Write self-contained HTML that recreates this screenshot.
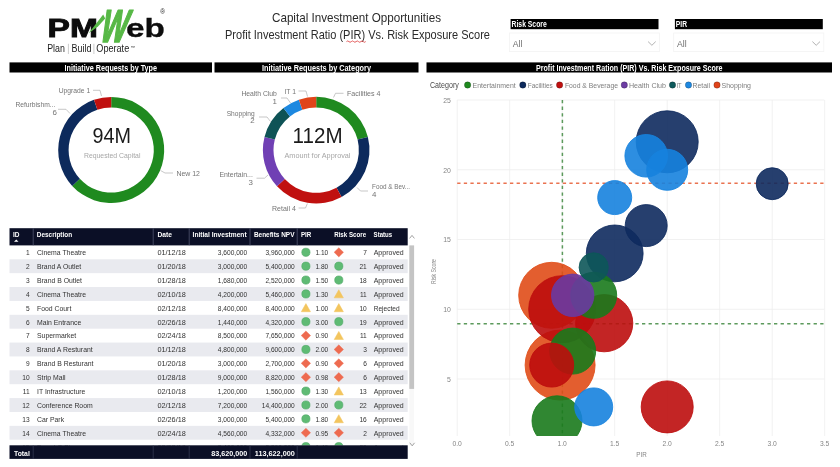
<!DOCTYPE html>
<html><head><meta charset="utf-8"><title>Capital Investment Opportunities</title>
<style>
html,body{margin:0;padding:0;background:#fff;}
body{width:840px;height:467px;overflow:hidden;}
svg{display:block;font-family:"Liberation Sans",sans-serif;}
</style></head><body>
<svg width="840" height="467" viewBox="0 0 840 467">
<rect width="840" height="467" fill="#fff"/>
<g id="logo">
<text x="47.60" y="36.70" font-size="26.2" fill="#0d0d0d" textLength="50.20" lengthAdjust="spacingAndGlyphs" font-weight="bold" stroke="#0d0d0d" stroke-width="0.9">PM</text>
<text x="126.10" y="36.70" font-size="26.4" fill="#0d0d0d" textLength="38.90" lengthAdjust="spacingAndGlyphs" font-weight="bold" stroke="#0d0d0d" stroke-width="0.3">eb</text>
<text x="0" y="0" font-size="44" font-weight="bold" fill="#57b846" stroke="#57b846" stroke-width="1.6" stroke-linejoin="round" transform="translate(98,41.8) skewX(-16) scale(0.63,1.05)">W</text>
<path d="M88.6 33.2 L103.2 14.6 L105.2 18.5 L98 26.5Z" fill="#57b846"/>
<text x="160.30" y="14.20" font-size="6.5" fill="#222">®</text>
<text x="47.20" y="52.30" font-size="10.8" fill="#1c1c1c" textLength="17.70" lengthAdjust="spacingAndGlyphs">Plan</text>
<text x="71.40" y="52.30" font-size="10.8" fill="#1c1c1c" textLength="20.00" lengthAdjust="spacingAndGlyphs">Build</text>
<text x="96.30" y="52.30" font-size="10.8" fill="#1c1c1c" textLength="32.90" lengthAdjust="spacingAndGlyphs">Operate</text>
<text x="130.60" y="48.60" font-size="4.4" fill="#222">™</text>
<line x1="68.40" y1="43.80" x2="68.40" y2="54.00" stroke="#aaa" stroke-width="0.6"/>
<line x1="93.90" y1="43.80" x2="93.90" y2="54.00" stroke="#aaa" stroke-width="0.6"/>
</g>
<text x="356.50" y="22.10" font-size="12.8" fill="#2b2b2b" textLength="169.00" lengthAdjust="spacingAndGlyphs" text-anchor="middle">Capital Investment Opportunities</text>
<text x="357.50" y="39.40" font-size="12.8" fill="#2b2b2b" textLength="265.00" lengthAdjust="spacingAndGlyphs" text-anchor="middle">Profit Investment Ratio (PIR) Vs. Risk Exposure Score</text>
<path d="M346.5 41.6 q1.2 -1.3 2.4 0 t2.4 0 t2.4 0 t2.4 0 t2.4 0 t2.4 0 t2.4 0 t2.4 0" fill="none" stroke="#e04848" stroke-width="0.9"/>
<rect x="510.60" y="19.00" width="147.90" height="10.20" fill="#000"/>
<text x="511.50" y="27.10" font-size="8.2" fill="#fff" textLength="35.30" lengthAdjust="spacingAndGlyphs" font-weight="bold">Risk Score</text>
<rect x="509.40" y="33.00" width="150.10" height="18.60" fill="#fff" stroke="#f3f3f3" stroke-width="0.8"/>
<text x="512.80" y="46.90" font-size="9.4" fill="#707070" textLength="9.60" lengthAdjust="spacingAndGlyphs">All</text>
<path d="M648.1 41.6 L651.9 45.3 L655.7 41.6" fill="none" stroke="#a8a8a8" stroke-width="0.9"/>
<rect x="674.90" y="19.00" width="147.90" height="10.20" fill="#000"/>
<text x="675.80" y="27.10" font-size="8.2" fill="#fff" textLength="11.20" lengthAdjust="spacingAndGlyphs" font-weight="bold">PIR</text>
<rect x="673.70" y="33.00" width="150.10" height="18.60" fill="#fff" stroke="#f3f3f3" stroke-width="0.8"/>
<text x="677.10" y="46.90" font-size="9.4" fill="#707070" textLength="9.60" lengthAdjust="spacingAndGlyphs">All</text>
<path d="M812.4 41.6 L816.2 45.3 L820.0 41.6" fill="none" stroke="#a8a8a8" stroke-width="0.9"/>
<rect x="9.50" y="62.40" width="202.50" height="10.10" fill="#000"/>
<text x="110.75" y="70.60" font-size="8.3" fill="#fff" textLength="92.50" lengthAdjust="spacingAndGlyphs" text-anchor="middle" font-weight="bold">Initiative Requests by Type</text>
<rect x="214.50" y="62.40" width="204.00" height="10.10" fill="#000"/>
<text x="316.50" y="70.60" font-size="8.3" fill="#fff" textLength="109.00" lengthAdjust="spacingAndGlyphs" text-anchor="middle" font-weight="bold">Initiative Requests by Category</text>
<rect x="426.50" y="62.40" width="405.50" height="10.10" fill="#000"/>
<text x="629.25" y="70.60" font-size="8.3" fill="#fff" textLength="186.50" lengthAdjust="spacingAndGlyphs" text-anchor="middle" font-weight="bold">Profit Investment Ration (PIR) Vs. Risk Exposure Score</text>
<path d="M111.20 97.00 A53.0 53.0 0 1 1 72.21 185.90 L79.86 178.85 A42.6 42.6 0 1 0 111.20 107.40Z" fill="#1f8a1f"/>
<path d="M72.21 185.90 A53.0 53.0 0 0 1 93.99 99.87 L97.37 109.71 A42.6 42.6 0 0 0 79.86 178.85Z" fill="#0d2a5c"/>
<path d="M93.99 99.87 A53.0 53.0 0 0 1 111.20 97.00 L111.20 107.40 A42.6 42.6 0 0 0 97.37 109.71Z" fill="#c0100f"/>
<path d="M316.20 96.80 A53.3 53.3 0 0 1 367.87 137.02 L357.59 139.62 A42.7 42.7 0 0 0 316.20 107.40Z" fill="#1f8a1f"/>
<path d="M367.87 137.02 A53.3 53.3 0 0 1 341.57 196.98 L336.52 187.65 A42.7 42.7 0 0 0 357.59 139.62Z" fill="#0d2a5c"/>
<path d="M341.57 196.98 A53.3 53.3 0 0 1 276.99 186.20 L284.78 179.02 A42.7 42.7 0 0 0 336.52 187.65Z" fill="#c0100f"/>
<path d="M276.99 186.20 A53.3 53.3 0 0 1 264.53 137.02 L274.81 139.62 A42.7 42.7 0 0 0 284.78 179.02Z" fill="#7040b4"/>
<path d="M264.53 137.02 A53.3 53.3 0 0 1 283.46 108.04 L289.97 116.40 A42.7 42.7 0 0 0 274.81 139.62Z" fill="#0e5356"/>
<path d="M283.46 108.04 A53.3 53.3 0 0 1 298.89 99.69 L302.34 109.71 A42.7 42.7 0 0 0 289.97 116.40Z" fill="#1d88e0"/>
<path d="M298.89 99.69 A53.3 53.3 0 0 1 316.20 96.80 L316.20 107.40 A42.7 42.7 0 0 0 302.34 109.71Z" fill="#e0441a"/>
<text x="111.80" y="143.00" font-size="22.5" fill="#1a1a1a" textLength="38.50" lengthAdjust="spacingAndGlyphs" text-anchor="middle">94M</text>
<text x="112.20" y="157.60" font-size="7.6" fill="#a6a6a6" textLength="56.50" lengthAdjust="spacingAndGlyphs" text-anchor="middle">Requested Capital</text>
<text x="317.60" y="143.00" font-size="22.5" fill="#1a1a1a" textLength="50.00" lengthAdjust="spacingAndGlyphs" text-anchor="middle">112M</text>
<text x="317.50" y="157.50" font-size="7.6" fill="#a6a6a6" textLength="66.00" lengthAdjust="spacingAndGlyphs" text-anchor="middle">Amount for Approval</text>
<text x="58.70" y="93.20" font-size="7.9" fill="#747474" textLength="31.50" lengthAdjust="spacingAndGlyphs">Upgrade 1</text>
<path d="M93.0 90.3 L100.0 90.3 L101.5 96.0" fill="none" stroke="#b0b0b0" stroke-width="0.7"/>
<text x="15.40" y="107.30" font-size="7.9" fill="#747474" textLength="40.00" lengthAdjust="spacingAndGlyphs">Refurbishm...</text>
<text x="57.00" y="115.30" font-size="7.9" fill="#747474" text-anchor="end">6</text>
<path d="M58.0 109.3 L66.0 109.3 L70.0 113.5" fill="none" stroke="#b0b0b0" stroke-width="0.7"/>
<text x="176.40" y="175.80" font-size="7.9" fill="#747474" textLength="23.50" lengthAdjust="spacingAndGlyphs">New 12</text>
<path d="M160.5 170.5 L165.0 173.0 L173.0 173.0" fill="none" stroke="#b0b0b0" stroke-width="0.7"/>
<text x="347.00" y="96.00" font-size="7.9" fill="#747474" textLength="33.50" lengthAdjust="spacingAndGlyphs">Facilities 4</text>
<path d="M333.5 97.5 L335.5 93.3 L343.5 93.3" fill="none" stroke="#b0b0b0" stroke-width="0.7"/>
<text x="284.50" y="93.70" font-size="7.9" fill="#747474" textLength="11.50" lengthAdjust="spacingAndGlyphs">IT 1</text>
<path d="M298.5 91.0 L306.0 91.0 L307.5 96.5" fill="none" stroke="#b0b0b0" stroke-width="0.7"/>
<text x="241.40" y="96.00" font-size="7.9" fill="#747474" textLength="35.50" lengthAdjust="spacingAndGlyphs">Health Club</text>
<text x="277.00" y="104.00" font-size="7.9" fill="#747474" text-anchor="end">1</text>
<path d="M281.0 98.0 L287.0 98.0 L290.5 103.0" fill="none" stroke="#b0b0b0" stroke-width="0.7"/>
<text x="226.70" y="115.60" font-size="7.9" fill="#747474" textLength="28.00" lengthAdjust="spacingAndGlyphs">Shopping</text>
<text x="254.60" y="123.00" font-size="7.9" fill="#747474" text-anchor="end">2</text>
<path d="M259.0 117.0 L267.0 117.0 L270.5 121.5" fill="none" stroke="#b0b0b0" stroke-width="0.7"/>
<text x="219.40" y="177.20" font-size="7.9" fill="#747474" textLength="33.50" lengthAdjust="spacingAndGlyphs">Entertain...</text>
<text x="253.00" y="185.00" font-size="7.9" fill="#747474" text-anchor="end">3</text>
<path d="M256.5 178.2 L264.5 178.2 L268.0 175.0" fill="none" stroke="#b0b0b0" stroke-width="0.7"/>
<text x="272.00" y="210.80" font-size="7.9" fill="#747474" textLength="23.80" lengthAdjust="spacingAndGlyphs">Retail 4</text>
<path d="M298.6 208.0 L305.5 208.0 L307.4 203.5" fill="none" stroke="#b0b0b0" stroke-width="0.7"/>
<text x="372.00" y="188.80" font-size="7.9" fill="#747474" textLength="38.00" lengthAdjust="spacingAndGlyphs">Food &amp; Bev...</text>
<text x="372.00" y="197.00" font-size="7.9" fill="#747474">4</text>
<path d="M357.0 187.5 L360.5 191.0 L368.0 191.0" fill="none" stroke="#b0b0b0" stroke-width="0.7"/>
<rect x="9.50" y="228.20" width="398.20" height="17.20" fill="#0b0f26"/>
<clipPath id="tclip"><rect x="9" y="245.4" width="400" height="200"/></clipPath><g clip-path="url(#tclip)">
<text x="29.60" y="255.20" font-size="7.3" fill="#333" textLength="3.67" lengthAdjust="spacingAndGlyphs" text-anchor="end">1</text>
<text x="37.00" y="255.20" font-size="7.3" fill="#333" textLength="49.07" lengthAdjust="spacingAndGlyphs">Cinema Theatre</text>
<text x="157.40" y="255.20" font-size="7.3" fill="#333" textLength="28.41" lengthAdjust="spacingAndGlyphs">01/12/18</text>
<text x="247.20" y="255.20" font-size="7.3" fill="#333" textLength="29.39" lengthAdjust="spacingAndGlyphs" text-anchor="end">3,600,000</text>
<text x="294.80" y="255.20" font-size="7.3" fill="#333" textLength="29.39" lengthAdjust="spacingAndGlyphs" text-anchor="end">3,960,000</text>
<circle cx="305.9" cy="252.3" r="4.1" fill="#5fbb74" stroke="#4fa866" stroke-width="0.6"/>
<text x="328.30" y="255.20" font-size="7.3" fill="#333" textLength="12.86" lengthAdjust="spacingAndGlyphs" text-anchor="end">1.10</text>
<path d="M338.8 247.70000000000002 L343.5 252.3 L338.8 256.90000000000003 L334.1 252.3Z" fill="#ee6b50" stroke="#ee6b50" stroke-width="0.4" stroke-linejoin="round"/>
<text x="366.80" y="255.20" font-size="7.3" fill="#333" textLength="3.67" lengthAdjust="spacingAndGlyphs" text-anchor="end">7</text>
<text x="373.70" y="255.20" font-size="7.3" fill="#333" textLength="30.00" lengthAdjust="spacingAndGlyphs">Approved</text>
<rect x="9.50" y="259.28" width="398.20" height="13.88" fill="#e9eaef"/>
<text x="29.60" y="269.08" font-size="7.3" fill="#333" textLength="3.67" lengthAdjust="spacingAndGlyphs" text-anchor="end">2</text>
<text x="37.00" y="269.08" font-size="7.3" fill="#333" textLength="44.25" lengthAdjust="spacingAndGlyphs">Brand A Outlet</text>
<text x="157.40" y="269.08" font-size="7.3" fill="#333" textLength="28.41" lengthAdjust="spacingAndGlyphs">01/20/18</text>
<text x="247.20" y="269.08" font-size="7.3" fill="#333" textLength="29.39" lengthAdjust="spacingAndGlyphs" text-anchor="end">3,000,000</text>
<text x="294.80" y="269.08" font-size="7.3" fill="#333" textLength="29.39" lengthAdjust="spacingAndGlyphs" text-anchor="end">5,400,000</text>
<circle cx="305.9" cy="266.18" r="4.1" fill="#5fbb74" stroke="#4fa866" stroke-width="0.6"/>
<text x="328.30" y="269.08" font-size="7.3" fill="#333" textLength="12.86" lengthAdjust="spacingAndGlyphs" text-anchor="end">1.80</text>
<circle cx="338.8" cy="266.18" r="4.1" fill="#5fbb74" stroke="#4fa866" stroke-width="0.6"/>
<text x="366.80" y="269.08" font-size="7.3" fill="#333" textLength="7.35" lengthAdjust="spacingAndGlyphs" text-anchor="end">21</text>
<text x="373.70" y="269.08" font-size="7.3" fill="#333" textLength="30.00" lengthAdjust="spacingAndGlyphs">Approved</text>
<text x="29.60" y="282.96" font-size="7.3" fill="#333" textLength="3.67" lengthAdjust="spacingAndGlyphs" text-anchor="end">3</text>
<text x="37.00" y="282.96" font-size="7.3" fill="#333" textLength="45.01" lengthAdjust="spacingAndGlyphs">Brand B Outlet</text>
<text x="157.40" y="282.96" font-size="7.3" fill="#333" textLength="28.41" lengthAdjust="spacingAndGlyphs">01/28/18</text>
<text x="247.20" y="282.96" font-size="7.3" fill="#333" textLength="29.39" lengthAdjust="spacingAndGlyphs" text-anchor="end">1,680,000</text>
<text x="294.80" y="282.96" font-size="7.3" fill="#333" textLength="29.39" lengthAdjust="spacingAndGlyphs" text-anchor="end">2,520,000</text>
<circle cx="305.9" cy="280.06" r="4.1" fill="#5fbb74" stroke="#4fa866" stroke-width="0.6"/>
<text x="328.30" y="282.96" font-size="7.3" fill="#333" textLength="12.86" lengthAdjust="spacingAndGlyphs" text-anchor="end">1.50</text>
<circle cx="338.8" cy="280.06" r="4.1" fill="#5fbb74" stroke="#4fa866" stroke-width="0.6"/>
<text x="366.80" y="282.96" font-size="7.3" fill="#333" textLength="7.35" lengthAdjust="spacingAndGlyphs" text-anchor="end">18</text>
<text x="373.70" y="282.96" font-size="7.3" fill="#333" textLength="30.00" lengthAdjust="spacingAndGlyphs">Approved</text>
<rect x="9.50" y="287.04" width="398.20" height="13.88" fill="#e9eaef"/>
<text x="29.60" y="296.84" font-size="7.3" fill="#333" textLength="3.67" lengthAdjust="spacingAndGlyphs" text-anchor="end">4</text>
<text x="37.00" y="296.84" font-size="7.3" fill="#333" textLength="49.07" lengthAdjust="spacingAndGlyphs">Cinema Theatre</text>
<text x="157.40" y="296.84" font-size="7.3" fill="#333" textLength="28.41" lengthAdjust="spacingAndGlyphs">02/10/18</text>
<text x="247.20" y="296.84" font-size="7.3" fill="#333" textLength="29.39" lengthAdjust="spacingAndGlyphs" text-anchor="end">4,200,000</text>
<text x="294.80" y="296.84" font-size="7.3" fill="#333" textLength="29.39" lengthAdjust="spacingAndGlyphs" text-anchor="end">5,460,000</text>
<circle cx="305.9" cy="293.94" r="4.1" fill="#5fbb74" stroke="#4fa866" stroke-width="0.6"/>
<text x="328.30" y="296.84" font-size="7.3" fill="#333" textLength="12.86" lengthAdjust="spacingAndGlyphs" text-anchor="end">1.30</text>
<path d="M338.8 289.74 L343.40000000000003 297.84 L334.2 297.84Z" fill="#f3c55e" stroke="#f3c55e" stroke-width="0.5" stroke-linejoin="round"/>
<text x="366.80" y="296.84" font-size="7.3" fill="#333" textLength="6.86" lengthAdjust="spacingAndGlyphs" text-anchor="end">11</text>
<text x="373.70" y="296.84" font-size="7.3" fill="#333" textLength="30.00" lengthAdjust="spacingAndGlyphs">Approved</text>
<text x="29.60" y="310.72" font-size="7.3" fill="#333" textLength="3.67" lengthAdjust="spacingAndGlyphs" text-anchor="end">5</text>
<text x="37.00" y="310.72" font-size="7.3" fill="#333" textLength="34.32" lengthAdjust="spacingAndGlyphs">Food Court</text>
<text x="157.40" y="310.72" font-size="7.3" fill="#333" textLength="28.41" lengthAdjust="spacingAndGlyphs">02/12/18</text>
<text x="247.20" y="310.72" font-size="7.3" fill="#333" textLength="29.39" lengthAdjust="spacingAndGlyphs" text-anchor="end">8,400,000</text>
<text x="294.80" y="310.72" font-size="7.3" fill="#333" textLength="29.39" lengthAdjust="spacingAndGlyphs" text-anchor="end">8,400,000</text>
<path d="M305.9 303.62 L310.5 311.71999999999997 L301.29999999999995 311.71999999999997Z" fill="#f3c55e" stroke="#f3c55e" stroke-width="0.5" stroke-linejoin="round"/>
<text x="328.30" y="310.72" font-size="7.3" fill="#333" textLength="12.86" lengthAdjust="spacingAndGlyphs" text-anchor="end">1.00</text>
<path d="M338.8 303.62 L343.40000000000003 311.71999999999997 L334.2 311.71999999999997Z" fill="#f3c55e" stroke="#f3c55e" stroke-width="0.5" stroke-linejoin="round"/>
<text x="366.80" y="310.72" font-size="7.3" fill="#333" textLength="7.35" lengthAdjust="spacingAndGlyphs" text-anchor="end">10</text>
<text x="373.70" y="310.72" font-size="7.3" fill="#333" textLength="26.00" lengthAdjust="spacingAndGlyphs">Rejected</text>
<rect x="9.50" y="314.80" width="398.20" height="13.88" fill="#e9eaef"/>
<text x="29.60" y="324.60" font-size="7.3" fill="#333" textLength="3.67" lengthAdjust="spacingAndGlyphs" text-anchor="end">6</text>
<text x="37.00" y="324.60" font-size="7.3" fill="#333" textLength="44.24" lengthAdjust="spacingAndGlyphs">Main Entrance</text>
<text x="157.40" y="324.60" font-size="7.3" fill="#333" textLength="28.41" lengthAdjust="spacingAndGlyphs">02/26/18</text>
<text x="247.20" y="324.60" font-size="7.3" fill="#333" textLength="29.39" lengthAdjust="spacingAndGlyphs" text-anchor="end">1,440,000</text>
<text x="294.80" y="324.60" font-size="7.3" fill="#333" textLength="29.39" lengthAdjust="spacingAndGlyphs" text-anchor="end">4,320,000</text>
<circle cx="305.9" cy="321.7" r="4.1" fill="#5fbb74" stroke="#4fa866" stroke-width="0.6"/>
<text x="328.30" y="324.60" font-size="7.3" fill="#333" textLength="12.86" lengthAdjust="spacingAndGlyphs" text-anchor="end">3.00</text>
<circle cx="338.8" cy="321.7" r="4.1" fill="#5fbb74" stroke="#4fa866" stroke-width="0.6"/>
<text x="366.80" y="324.60" font-size="7.3" fill="#333" textLength="7.35" lengthAdjust="spacingAndGlyphs" text-anchor="end">19</text>
<text x="373.70" y="324.60" font-size="7.3" fill="#333" textLength="30.00" lengthAdjust="spacingAndGlyphs">Approved</text>
<text x="29.60" y="338.48" font-size="7.3" fill="#333" textLength="3.67" lengthAdjust="spacingAndGlyphs" text-anchor="end">7</text>
<text x="37.00" y="338.48" font-size="7.3" fill="#333" textLength="39.28" lengthAdjust="spacingAndGlyphs">Supermarket</text>
<text x="157.40" y="338.48" font-size="7.3" fill="#333" textLength="28.41" lengthAdjust="spacingAndGlyphs">02/24/18</text>
<text x="247.20" y="338.48" font-size="7.3" fill="#333" textLength="29.39" lengthAdjust="spacingAndGlyphs" text-anchor="end">8,500,000</text>
<text x="294.80" y="338.48" font-size="7.3" fill="#333" textLength="29.39" lengthAdjust="spacingAndGlyphs" text-anchor="end">7,650,000</text>
<path d="M305.9 330.97999999999996 L310.59999999999997 335.58 L305.9 340.18 L301.2 335.58Z" fill="#ee6b50" stroke="#ee6b50" stroke-width="0.4" stroke-linejoin="round"/>
<text x="328.30" y="338.48" font-size="7.3" fill="#333" textLength="12.86" lengthAdjust="spacingAndGlyphs" text-anchor="end">0.90</text>
<path d="M338.8 331.38 L343.40000000000003 339.47999999999996 L334.2 339.47999999999996Z" fill="#f3c55e" stroke="#f3c55e" stroke-width="0.5" stroke-linejoin="round"/>
<text x="366.80" y="338.48" font-size="7.3" fill="#333" textLength="6.86" lengthAdjust="spacingAndGlyphs" text-anchor="end">11</text>
<text x="373.70" y="338.48" font-size="7.3" fill="#333" textLength="30.00" lengthAdjust="spacingAndGlyphs">Approved</text>
<rect x="9.50" y="342.56" width="398.20" height="13.88" fill="#e9eaef"/>
<text x="29.60" y="352.36" font-size="7.3" fill="#333" textLength="3.67" lengthAdjust="spacingAndGlyphs" text-anchor="end">8</text>
<text x="37.00" y="352.36" font-size="7.3" fill="#333" textLength="55.69" lengthAdjust="spacingAndGlyphs">Brand A Resturant</text>
<text x="157.40" y="352.36" font-size="7.3" fill="#333" textLength="28.41" lengthAdjust="spacingAndGlyphs">01/12/18</text>
<text x="247.20" y="352.36" font-size="7.3" fill="#333" textLength="29.39" lengthAdjust="spacingAndGlyphs" text-anchor="end">4,800,000</text>
<text x="294.80" y="352.36" font-size="7.3" fill="#333" textLength="29.39" lengthAdjust="spacingAndGlyphs" text-anchor="end">9,600,000</text>
<circle cx="305.9" cy="349.46" r="4.1" fill="#5fbb74" stroke="#4fa866" stroke-width="0.6"/>
<text x="328.30" y="352.36" font-size="7.3" fill="#333" textLength="12.86" lengthAdjust="spacingAndGlyphs" text-anchor="end">2.00</text>
<path d="M338.8 344.85999999999996 L343.5 349.46 L338.8 354.06 L334.1 349.46Z" fill="#ee6b50" stroke="#ee6b50" stroke-width="0.4" stroke-linejoin="round"/>
<text x="366.80" y="352.36" font-size="7.3" fill="#333" textLength="3.67" lengthAdjust="spacingAndGlyphs" text-anchor="end">3</text>
<text x="373.70" y="352.36" font-size="7.3" fill="#333" textLength="30.00" lengthAdjust="spacingAndGlyphs">Approved</text>
<text x="29.60" y="366.24" font-size="7.3" fill="#333" textLength="3.67" lengthAdjust="spacingAndGlyphs" text-anchor="end">9</text>
<text x="37.00" y="366.24" font-size="7.3" fill="#333" textLength="56.45" lengthAdjust="spacingAndGlyphs">Brand B Resturant</text>
<text x="157.40" y="366.24" font-size="7.3" fill="#333" textLength="28.41" lengthAdjust="spacingAndGlyphs">01/20/18</text>
<text x="247.20" y="366.24" font-size="7.3" fill="#333" textLength="29.39" lengthAdjust="spacingAndGlyphs" text-anchor="end">3,000,000</text>
<text x="294.80" y="366.24" font-size="7.3" fill="#333" textLength="29.39" lengthAdjust="spacingAndGlyphs" text-anchor="end">2,700,000</text>
<path d="M305.9 358.73999999999995 L310.59999999999997 363.34 L305.9 367.94 L301.2 363.34Z" fill="#ee6b50" stroke="#ee6b50" stroke-width="0.4" stroke-linejoin="round"/>
<text x="328.30" y="366.24" font-size="7.3" fill="#333" textLength="12.86" lengthAdjust="spacingAndGlyphs" text-anchor="end">0.90</text>
<path d="M338.8 358.73999999999995 L343.5 363.34 L338.8 367.94 L334.1 363.34Z" fill="#ee6b50" stroke="#ee6b50" stroke-width="0.4" stroke-linejoin="round"/>
<text x="366.80" y="366.24" font-size="7.3" fill="#333" textLength="3.67" lengthAdjust="spacingAndGlyphs" text-anchor="end">6</text>
<text x="373.70" y="366.24" font-size="7.3" fill="#333" textLength="30.00" lengthAdjust="spacingAndGlyphs">Approved</text>
<rect x="9.50" y="370.32" width="398.20" height="13.88" fill="#e9eaef"/>
<text x="29.60" y="380.12" font-size="7.3" fill="#333" textLength="7.35" lengthAdjust="spacingAndGlyphs" text-anchor="end">10</text>
<text x="37.00" y="380.12" font-size="7.3" fill="#333" textLength="28.60" lengthAdjust="spacingAndGlyphs">Strip Mall</text>
<text x="157.40" y="380.12" font-size="7.3" fill="#333" textLength="28.41" lengthAdjust="spacingAndGlyphs">01/28/18</text>
<text x="247.20" y="380.12" font-size="7.3" fill="#333" textLength="29.39" lengthAdjust="spacingAndGlyphs" text-anchor="end">9,000,000</text>
<text x="294.80" y="380.12" font-size="7.3" fill="#333" textLength="29.39" lengthAdjust="spacingAndGlyphs" text-anchor="end">8,820,000</text>
<path d="M305.9 372.61999999999995 L310.59999999999997 377.21999999999997 L305.9 381.82 L301.2 377.21999999999997Z" fill="#ee6b50" stroke="#ee6b50" stroke-width="0.4" stroke-linejoin="round"/>
<text x="328.30" y="380.12" font-size="7.3" fill="#333" textLength="12.86" lengthAdjust="spacingAndGlyphs" text-anchor="end">0.98</text>
<path d="M338.8 372.61999999999995 L343.5 377.21999999999997 L338.8 381.82 L334.1 377.21999999999997Z" fill="#ee6b50" stroke="#ee6b50" stroke-width="0.4" stroke-linejoin="round"/>
<text x="366.80" y="380.12" font-size="7.3" fill="#333" textLength="3.67" lengthAdjust="spacingAndGlyphs" text-anchor="end">6</text>
<text x="373.70" y="380.12" font-size="7.3" fill="#333" textLength="30.00" lengthAdjust="spacingAndGlyphs">Approved</text>
<text x="29.60" y="394.00" font-size="7.3" fill="#333" textLength="6.86" lengthAdjust="spacingAndGlyphs" text-anchor="end">11</text>
<text x="37.00" y="394.00" font-size="7.3" fill="#333" textLength="48.30" lengthAdjust="spacingAndGlyphs">IT Infrastructure</text>
<text x="157.40" y="394.00" font-size="7.3" fill="#333" textLength="28.41" lengthAdjust="spacingAndGlyphs">02/10/18</text>
<text x="247.20" y="394.00" font-size="7.3" fill="#333" textLength="29.39" lengthAdjust="spacingAndGlyphs" text-anchor="end">1,200,000</text>
<text x="294.80" y="394.00" font-size="7.3" fill="#333" textLength="29.39" lengthAdjust="spacingAndGlyphs" text-anchor="end">1,560,000</text>
<circle cx="305.9" cy="391.1" r="4.1" fill="#5fbb74" stroke="#4fa866" stroke-width="0.6"/>
<text x="328.30" y="394.00" font-size="7.3" fill="#333" textLength="12.86" lengthAdjust="spacingAndGlyphs" text-anchor="end">1.30</text>
<path d="M338.8 386.90000000000003 L343.40000000000003 395.0 L334.2 395.0Z" fill="#f3c55e" stroke="#f3c55e" stroke-width="0.5" stroke-linejoin="round"/>
<text x="366.80" y="394.00" font-size="7.3" fill="#333" textLength="7.35" lengthAdjust="spacingAndGlyphs" text-anchor="end">13</text>
<text x="373.70" y="394.00" font-size="7.3" fill="#333" textLength="30.00" lengthAdjust="spacingAndGlyphs">Approved</text>
<rect x="9.50" y="398.08" width="398.20" height="13.88" fill="#e9eaef"/>
<text x="29.60" y="407.88" font-size="7.3" fill="#333" textLength="7.35" lengthAdjust="spacingAndGlyphs" text-anchor="end">12</text>
<text x="37.00" y="407.88" font-size="7.3" fill="#333" textLength="55.68" lengthAdjust="spacingAndGlyphs">Conference Room</text>
<text x="157.40" y="407.88" font-size="7.3" fill="#333" textLength="28.41" lengthAdjust="spacingAndGlyphs">02/12/18</text>
<text x="247.20" y="407.88" font-size="7.3" fill="#333" textLength="29.39" lengthAdjust="spacingAndGlyphs" text-anchor="end">7,200,000</text>
<text x="294.80" y="407.88" font-size="7.3" fill="#333" textLength="33.06" lengthAdjust="spacingAndGlyphs" text-anchor="end">14,400,000</text>
<circle cx="305.9" cy="404.98" r="4.1" fill="#5fbb74" stroke="#4fa866" stroke-width="0.6"/>
<text x="328.30" y="407.88" font-size="7.3" fill="#333" textLength="12.86" lengthAdjust="spacingAndGlyphs" text-anchor="end">2.00</text>
<circle cx="338.8" cy="404.98" r="4.1" fill="#5fbb74" stroke="#4fa866" stroke-width="0.6"/>
<text x="366.80" y="407.88" font-size="7.3" fill="#333" textLength="7.35" lengthAdjust="spacingAndGlyphs" text-anchor="end">22</text>
<text x="373.70" y="407.88" font-size="7.3" fill="#333" textLength="30.00" lengthAdjust="spacingAndGlyphs">Approved</text>
<text x="29.60" y="421.76" font-size="7.3" fill="#333" textLength="7.35" lengthAdjust="spacingAndGlyphs" text-anchor="end">13</text>
<text x="37.00" y="421.76" font-size="7.3" fill="#333" textLength="27.07" lengthAdjust="spacingAndGlyphs">Car Park</text>
<text x="157.40" y="421.76" font-size="7.3" fill="#333" textLength="28.41" lengthAdjust="spacingAndGlyphs">02/26/18</text>
<text x="247.20" y="421.76" font-size="7.3" fill="#333" textLength="29.39" lengthAdjust="spacingAndGlyphs" text-anchor="end">3,000,000</text>
<text x="294.80" y="421.76" font-size="7.3" fill="#333" textLength="29.39" lengthAdjust="spacingAndGlyphs" text-anchor="end">5,400,000</text>
<circle cx="305.9" cy="418.86" r="4.1" fill="#5fbb74" stroke="#4fa866" stroke-width="0.6"/>
<text x="328.30" y="421.76" font-size="7.3" fill="#333" textLength="12.86" lengthAdjust="spacingAndGlyphs" text-anchor="end">1.80</text>
<path d="M338.8 414.66 L343.40000000000003 422.76 L334.2 422.76Z" fill="#f3c55e" stroke="#f3c55e" stroke-width="0.5" stroke-linejoin="round"/>
<text x="366.80" y="421.76" font-size="7.3" fill="#333" textLength="7.35" lengthAdjust="spacingAndGlyphs" text-anchor="end">16</text>
<text x="373.70" y="421.76" font-size="7.3" fill="#333" textLength="30.00" lengthAdjust="spacingAndGlyphs">Approved</text>
<rect x="9.50" y="425.84" width="398.20" height="13.88" fill="#e9eaef"/>
<text x="29.60" y="435.64" font-size="7.3" fill="#333" textLength="7.35" lengthAdjust="spacingAndGlyphs" text-anchor="end">14</text>
<text x="37.00" y="435.64" font-size="7.3" fill="#333" textLength="49.07" lengthAdjust="spacingAndGlyphs">Cinema Theatre</text>
<text x="157.40" y="435.64" font-size="7.3" fill="#333" textLength="28.41" lengthAdjust="spacingAndGlyphs">02/24/18</text>
<text x="247.20" y="435.64" font-size="7.3" fill="#333" textLength="29.39" lengthAdjust="spacingAndGlyphs" text-anchor="end">4,560,000</text>
<text x="294.80" y="435.64" font-size="7.3" fill="#333" textLength="29.39" lengthAdjust="spacingAndGlyphs" text-anchor="end">4,332,000</text>
<path d="M305.9 428.14 L310.59999999999997 432.74 L305.9 437.34000000000003 L301.2 432.74Z" fill="#ee6b50" stroke="#ee6b50" stroke-width="0.4" stroke-linejoin="round"/>
<text x="328.30" y="435.64" font-size="7.3" fill="#333" textLength="12.86" lengthAdjust="spacingAndGlyphs" text-anchor="end">0.95</text>
<path d="M338.8 428.14 L343.5 432.74 L338.8 437.34000000000003 L334.1 432.74Z" fill="#ee6b50" stroke="#ee6b50" stroke-width="0.4" stroke-linejoin="round"/>
<text x="366.80" y="435.64" font-size="7.3" fill="#333" textLength="3.67" lengthAdjust="spacingAndGlyphs" text-anchor="end">2</text>
<text x="373.70" y="435.64" font-size="7.3" fill="#333" textLength="30.00" lengthAdjust="spacingAndGlyphs">Approved</text>
<text x="29.60" y="449.52" font-size="7.3" fill="#333" textLength="7.35" lengthAdjust="spacingAndGlyphs" text-anchor="end">15</text>
<text x="37.00" y="449.52" font-size="7.3" fill="#333" textLength="43.48" lengthAdjust="spacingAndGlyphs">Brand C Store</text>
<text x="157.40" y="449.52" font-size="7.3" fill="#333" textLength="28.41" lengthAdjust="spacingAndGlyphs">03/02/18</text>
<text x="247.20" y="449.52" font-size="7.3" fill="#333" textLength="29.39" lengthAdjust="spacingAndGlyphs" text-anchor="end">2,400,000</text>
<text x="294.80" y="449.52" font-size="7.3" fill="#333" textLength="29.39" lengthAdjust="spacingAndGlyphs" text-anchor="end">3,360,000</text>
<circle cx="305.9" cy="446.62" r="4.1" fill="#5fbb74" stroke="#4fa866" stroke-width="0.6"/>
<text x="328.30" y="449.52" font-size="7.3" fill="#333" textLength="12.86" lengthAdjust="spacingAndGlyphs" text-anchor="end">1.40</text>
<circle cx="338.8" cy="446.62" r="4.1" fill="#5fbb74" stroke="#4fa866" stroke-width="0.6"/>
<text x="366.80" y="449.52" font-size="7.3" fill="#333" textLength="7.35" lengthAdjust="spacingAndGlyphs" text-anchor="end">20</text>
<text x="373.70" y="449.52" font-size="7.3" fill="#333" textLength="30.00" lengthAdjust="spacingAndGlyphs">Approved</text>
</g>
<text x="13.00" y="237.00" font-size="7.4" fill="#fff" textLength="6.50" lengthAdjust="spacingAndGlyphs" font-weight="bold">ID</text>
<path d="M14 241.7 L16.25 239.5 L18.5 241.7Z" fill="#fff"/>
<text x="36.80" y="237.40" font-size="7.4" fill="#fff" textLength="35.30" lengthAdjust="spacingAndGlyphs" font-weight="bold">Description</text>
<text x="157.40" y="237.40" font-size="7.4" fill="#fff" textLength="14.50" lengthAdjust="spacingAndGlyphs" font-weight="bold">Date</text>
<text x="246.60" y="237.40" font-size="7.4" fill="#fff" textLength="54.00" lengthAdjust="spacingAndGlyphs" text-anchor="end" font-weight="bold">Initial Investment</text>
<text x="294.50" y="237.40" font-size="7.4" fill="#fff" textLength="40.60" lengthAdjust="spacingAndGlyphs" text-anchor="end" font-weight="bold">Benefits NPV</text>
<text x="301.00" y="237.40" font-size="7.4" fill="#fff" textLength="10.30" lengthAdjust="spacingAndGlyphs" font-weight="bold">PIR</text>
<text x="334.20" y="237.40" font-size="7.4" fill="#fff" textLength="31.90" lengthAdjust="spacingAndGlyphs" font-weight="bold">Risk Score</text>
<text x="373.60" y="237.40" font-size="7.4" fill="#fff" textLength="18.50" lengthAdjust="spacingAndGlyphs" font-weight="bold">Status</text>
<line x1="33.20" y1="228.20" x2="33.20" y2="245.40" stroke="#5a5f78" stroke-width="0.7"/>
<line x1="153.20" y1="228.20" x2="153.20" y2="245.40" stroke="#5a5f78" stroke-width="0.7"/>
<line x1="189.20" y1="228.20" x2="189.20" y2="245.40" stroke="#5a5f78" stroke-width="0.7"/>
<line x1="250.00" y1="228.20" x2="250.00" y2="245.40" stroke="#5a5f78" stroke-width="0.7"/>
<line x1="297.20" y1="228.20" x2="297.20" y2="245.40" stroke="#5a5f78" stroke-width="0.7"/>
<rect x="9.50" y="445.30" width="398.20" height="13.60" fill="#0b0f26"/>
<line x1="33.20" y1="445.30" x2="33.20" y2="458.90" stroke="#3a3f58" stroke-width="0.7"/>
<line x1="153.20" y1="445.30" x2="153.20" y2="458.90" stroke="#3a3f58" stroke-width="0.7"/>
<line x1="189.20" y1="445.30" x2="189.20" y2="458.90" stroke="#3a3f58" stroke-width="0.7"/>
<line x1="250.00" y1="445.30" x2="250.00" y2="458.90" stroke="#3a3f58" stroke-width="0.7"/>
<line x1="297.20" y1="445.30" x2="297.20" y2="458.90" stroke="#3a3f58" stroke-width="0.7"/>
<text x="14.00" y="455.60" font-size="7.4" fill="#fff" textLength="15.80" lengthAdjust="spacingAndGlyphs" font-weight="bold">Total</text>
<text x="247.20" y="455.60" font-size="7.4" fill="#fff" textLength="35.90" lengthAdjust="spacingAndGlyphs" text-anchor="end" font-weight="bold">83,620,000</text>
<text x="294.80" y="455.60" font-size="7.4" fill="#fff" textLength="40.00" lengthAdjust="spacingAndGlyphs" text-anchor="end" font-weight="bold">113,622,000</text>
<rect x="409.30" y="245.40" width="4.80" height="200.00" fill="#f8f8f8"/>
<rect x="409.30" y="245.40" width="4.80" height="143.50" fill="#c4c4c4"/>
<path d="M409.6 238.4 L412 235.4 L414.4 238.4" fill="none" stroke="#8a8a8a" stroke-width="0.8"/>
<path d="M409.8 442.8 L412.2 445.8 L414.6 442.8" fill="none" stroke="#8a8a8a" stroke-width="0.8"/>
<line x1="457.20" y1="100.00" x2="457.20" y2="436.00" stroke="#eeeeee" stroke-width="0.8"/>
<text x="457.20" y="445.50" font-size="8" fill="#858585" textLength="9.34" lengthAdjust="spacingAndGlyphs" text-anchor="middle">0.0</text>
<line x1="509.70" y1="100.00" x2="509.70" y2="436.00" stroke="#eeeeee" stroke-width="0.8"/>
<text x="509.70" y="445.50" font-size="8" fill="#858585" textLength="9.34" lengthAdjust="spacingAndGlyphs" text-anchor="middle">0.5</text>
<line x1="562.20" y1="100.00" x2="562.20" y2="436.00" stroke="#eeeeee" stroke-width="0.8"/>
<text x="562.20" y="445.50" font-size="8" fill="#858585" textLength="9.34" lengthAdjust="spacingAndGlyphs" text-anchor="middle">1.0</text>
<line x1="614.70" y1="100.00" x2="614.70" y2="436.00" stroke="#eeeeee" stroke-width="0.8"/>
<text x="614.70" y="445.50" font-size="8" fill="#858585" textLength="9.34" lengthAdjust="spacingAndGlyphs" text-anchor="middle">1.5</text>
<line x1="667.20" y1="100.00" x2="667.20" y2="436.00" stroke="#eeeeee" stroke-width="0.8"/>
<text x="667.20" y="445.50" font-size="8" fill="#858585" textLength="9.34" lengthAdjust="spacingAndGlyphs" text-anchor="middle">2.0</text>
<line x1="719.70" y1="100.00" x2="719.70" y2="436.00" stroke="#eeeeee" stroke-width="0.8"/>
<text x="719.70" y="445.50" font-size="8" fill="#858585" textLength="9.34" lengthAdjust="spacingAndGlyphs" text-anchor="middle">2.5</text>
<line x1="772.20" y1="100.00" x2="772.20" y2="436.00" stroke="#eeeeee" stroke-width="0.8"/>
<text x="772.20" y="445.50" font-size="8" fill="#858585" textLength="9.34" lengthAdjust="spacingAndGlyphs" text-anchor="middle">3.0</text>
<line x1="824.70" y1="100.00" x2="824.70" y2="436.00" stroke="#eeeeee" stroke-width="0.8"/>
<text x="829.30" y="445.50" font-size="8" fill="#858585" textLength="9.34" lengthAdjust="spacingAndGlyphs" text-anchor="end">3.5</text>
<line x1="457.20" y1="100.00" x2="824.30" y2="100.00" stroke="#eeeeee" stroke-width="0.8"/>
<text x="450.80" y="102.90" font-size="8" fill="#858585" textLength="7.65" lengthAdjust="spacingAndGlyphs" text-anchor="end">25</text>
<line x1="457.20" y1="169.75" x2="824.30" y2="169.75" stroke="#eeeeee" stroke-width="0.8"/>
<text x="450.80" y="172.65" font-size="8" fill="#858585" textLength="7.65" lengthAdjust="spacingAndGlyphs" text-anchor="end">20</text>
<line x1="457.20" y1="239.50" x2="824.30" y2="239.50" stroke="#eeeeee" stroke-width="0.8"/>
<text x="450.80" y="242.40" font-size="8" fill="#858585" textLength="7.65" lengthAdjust="spacingAndGlyphs" text-anchor="end">15</text>
<line x1="457.20" y1="309.25" x2="824.30" y2="309.25" stroke="#eeeeee" stroke-width="0.8"/>
<text x="450.80" y="312.15" font-size="8" fill="#858585" textLength="7.65" lengthAdjust="spacingAndGlyphs" text-anchor="end">10</text>
<line x1="457.20" y1="379.00" x2="824.30" y2="379.00" stroke="#eeeeee" stroke-width="0.8"/>
<text x="450.80" y="381.90" font-size="8" fill="#858585" textLength="3.83" lengthAdjust="spacingAndGlyphs" text-anchor="end">5</text>
<line x1="562.40" y1="100.00" x2="562.40" y2="436.00" stroke="#5c9a5c" stroke-width="1.5" stroke-dasharray="3.3 3.3"/>
<line x1="457.20" y1="183.30" x2="824.30" y2="183.30" stroke="#ea7350" stroke-width="1.4" stroke-dasharray="3.3 3.3"/>
<line x1="457.20" y1="323.80" x2="824.30" y2="323.80" stroke="#5c9a5c" stroke-width="1.5" stroke-dasharray="3.3 3.3"/>
<clipPath id="pclip"><rect x="457.2" y="90" width="380" height="346.0"/></clipPath><g clip-path="url(#pclip)" fill-opacity="0.9" stroke-width="0.9" stroke-opacity="0.95">
<circle cx="667.2" cy="141.8" r="31" fill="#0e2a5e" stroke="#0e2a5e"/>
<circle cx="614.7" cy="253.4" r="28.4" fill="#0e2a5e" stroke="#0e2a5e"/>
<circle cx="646.2" cy="225.6" r="21" fill="#0e2a5e" stroke="#0e2a5e"/>
<circle cx="772.2" cy="183.7" r="16" fill="#0e2a5e" stroke="#0e2a5e"/>
<circle cx="646.2" cy="155.8" r="21.3" fill="#1682de" stroke="#1682de"/>
<circle cx="667.2" cy="169.8" r="20.5" fill="#1682de" stroke="#1682de"/>
<circle cx="614.7" cy="197.6" r="17" fill="#1682de" stroke="#1682de"/>
<circle cx="551.7" cy="295.3" r="33" fill="#e04d18" stroke="#e04d18"/>
<circle cx="560.1" cy="365.1" r="35" fill="#e04d18" stroke="#e04d18"/>
<circle cx="562.2" cy="309.2" r="33.5" fill="#bd0d0d" stroke="#bd0d0d"/>
<circle cx="604.2" cy="323.2" r="28.6" fill="#bd0d0d" stroke="#bd0d0d"/>
<circle cx="593.7" cy="295.3" r="23" fill="#1a7a1c" stroke="#1a7a1c"/>
<circle cx="572.7" cy="351.1" r="23" fill="#1a7a1c" stroke="#1a7a1c"/>
<circle cx="551.7" cy="365.1" r="22" fill="#bd0d0d" stroke="#bd0d0d"/>
<circle cx="557.0" cy="420.8" r="25" fill="#1a7a1c" stroke="#1a7a1c"/>
<circle cx="593.7" cy="406.9" r="19" fill="#1682de" stroke="#1682de"/>
<circle cx="667.2" cy="406.9" r="26" fill="#bd0d0d" stroke="#bd0d0d"/>
<circle cx="572.7" cy="295.3" r="21.2" fill="#6a3aa2" stroke="#6a3aa2"/>
<circle cx="593.7" cy="267.4" r="14.6" fill="#0d5759" stroke="#0d5759"/>
</g>
<text x="430.00" y="87.70" font-size="8.2" fill="#4a4a4a" textLength="28.80" lengthAdjust="spacingAndGlyphs">Category</text>
<circle cx="467.6" cy="85" r="3.2" fill="#1f8a1f" stroke="#000" stroke-opacity="0.3" stroke-width="0.7"/>
<text x="472.60" y="87.70" font-size="8.1" fill="#7d7d7d" textLength="43.10" lengthAdjust="spacingAndGlyphs">Entertainment</text>
<circle cx="522.8" cy="85" r="3.2" fill="#0d2a5c" stroke="#000" stroke-opacity="0.3" stroke-width="0.7"/>
<text x="527.80" y="87.70" font-size="8.1" fill="#7d7d7d" textLength="25.00" lengthAdjust="spacingAndGlyphs">Facilities</text>
<circle cx="559.6" cy="85" r="3.2" fill="#c0100f" stroke="#000" stroke-opacity="0.3" stroke-width="0.7"/>
<text x="564.90" y="87.70" font-size="8.1" fill="#7d7d7d" textLength="53.10" lengthAdjust="spacingAndGlyphs">Food &amp; Beverage</text>
<circle cx="624.3" cy="85" r="3.2" fill="#6d3da3" stroke="#000" stroke-opacity="0.3" stroke-width="0.7"/>
<text x="629.00" y="87.70" font-size="8.1" fill="#7d7d7d" textLength="37.00" lengthAdjust="spacingAndGlyphs">Health Club</text>
<circle cx="672.5" cy="85" r="3.2" fill="#0f5a5c" stroke="#000" stroke-opacity="0.3" stroke-width="0.7"/>
<text x="676.50" y="87.70" font-size="8.1" fill="#7d7d7d" textLength="5.20" lengthAdjust="spacingAndGlyphs">IT</text>
<circle cx="688.5" cy="85" r="3.2" fill="#1d88e0" stroke="#000" stroke-opacity="0.3" stroke-width="0.7"/>
<text x="692.50" y="87.70" font-size="8.1" fill="#7d7d7d" textLength="17.50" lengthAdjust="spacingAndGlyphs">Retail</text>
<circle cx="717" cy="85" r="3.2" fill="#e0441a" stroke="#000" stroke-opacity="0.3" stroke-width="0.7"/>
<text x="721.50" y="87.70" font-size="8.1" fill="#7d7d7d" textLength="29.50" lengthAdjust="spacingAndGlyphs">Shopping</text>
<text font-size="8" fill="#858585" text-anchor="middle" transform="translate(436,271.5) rotate(-90)" textLength="25" lengthAdjust="spacingAndGlyphs">Risk Score</text>
<text x="641.50" y="456.80" font-size="7.8" fill="#858585" textLength="10.50" lengthAdjust="spacingAndGlyphs" text-anchor="middle">PIR</text>
</svg>
</body></html>
